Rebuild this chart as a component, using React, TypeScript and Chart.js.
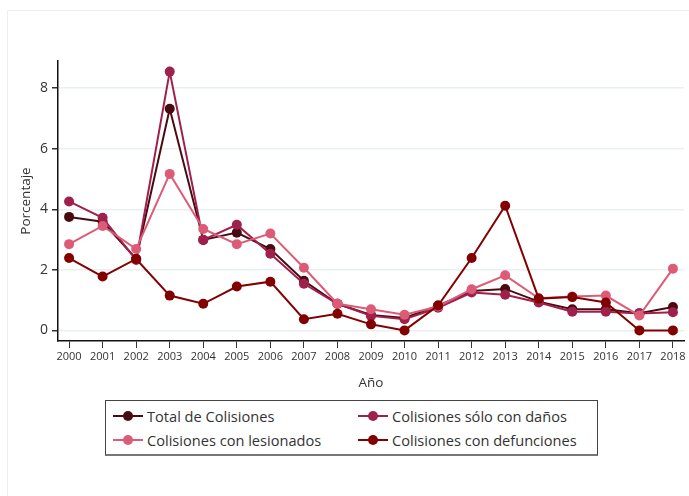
import React, { useEffect, useRef } from "react";
import { Chart, registerables } from "chart.js";

Chart.register(...registerables);

const years = [2000, 2001, 2002, 2003, 2004, 2005, 2006, 2007, 2008, 2009, 2010, 2011, 2012, 2013, 2014, 2015, 2016, 2017, 2018];
const totalColisiones = [3.75, 3.59, 2.36, 7.32, 2.99, 3.23, 2.69, 1.64, 0.88, 0.51, 0.41, 0.82, 1.3, 1.37, 0.95, 0.7, 0.7, 0.57, 0.77];
const soloDanos = [4.26, 3.72, 2.33, 8.55, 2.99, 3.49, 2.53, 1.54, 0.88, 0.48, 0.37, 0.75, 1.25, 1.18, 0.92, 0.62, 0.62, 0.56, 0.6];
const conLesionados = [2.85, 3.45, 2.69, 5.17, 3.35, 2.85, 3.2, 2.07, 0.88, 0.7, 0.52, 0.79, 1.36, 1.82, 1.06, 1.12, 1.15, 0.49, 2.04];
const conDefunciones = [2.39, 1.78, 2.36, 1.15, 0.88, 1.45, 1.61, 0.37, 0.55, 0.2, 0.0, 0.82, 2.39, 4.12, 1.05, 1.1, 0.92, 0.0, 0.0];
const yTicks = [0, 2, 4, 6, 8];

const seriesNames = ["Total de Colisiones", "Colisiones sólo con daños", "Colisiones con lesionados", "Colisiones con defunciones"];
const seriesColors = ["#4a0a12", "#a0204c", "#dc5c78", "#820000"];

const FONT = "'Open Sans', sans-serif";

export default function App() {
  const ref = useRef<HTMLCanvasElement | null>(null);

  useEffect(() => {
    document.body.style.margin = "0";
    const ctx = ref.current!;
    const values = [totalColisiones, soloDanos, conLesionados, conDefunciones];
    const order = [3, 2, 1, 0];
    const chart = new Chart(ctx, {
      type: "line",
      data: {
        datasets: order.map((i) => ({
          label: seriesNames[i],
          data: years.map((y, k) => ({ x: y, y: values[i][k] })),
          borderColor: seriesColors[i],
          backgroundColor: seriesColors[i],
          pointBackgroundColor: seriesColors[i],
          pointBorderColor: seriesColors[i],
          pointRadius: 5,
          pointBorderWidth: 0,
          borderWidth: 2,
          tension: 0,
          fill: false,
        })),
      },
      options: {
        animation: false,
        responsive: false,
        maintainAspectRatio: false,
        layout: { padding: { left: 14, top: 61, right: 1, bottom: 104 } },
        plugins: {
          legend: { display: false },
          tooltip: { enabled: false },
        },
        scales: {
          x: {
            type: "linear",
            min: 1999.67,
            max: 2018.33,
            afterBuildTicks: (scale: any) => {
              scale.ticks = years.map((v) => ({ value: v }));
            },
            afterFit: (scale: any) => {
              scale.height = 51;
            },
            ticks: {
              autoSkip: false,
              maxRotation: 0,
              color: "#333",
              font: { family: FONT, size: 11 },
              padding: 2,
              callback: (v: any) => String(v),
            },
            grid: {
              drawOnChartArea: false,
              drawTicks: true,
              tickLength: 7,
              tickColor: "#333",
              tickWidth: 1,
            },
            border: { color: "#111", width: 1.5 },
            title: {
              display: true,
              text: "Año",
              color: "#333",
              font: { family: FONT, size: 13.5 },
              padding: { top: 4, bottom: 1 },
            },
          },
          y: {
            type: "linear",
            min: -0.35,
            max: 8.9,
            afterBuildTicks: (scale: any) => {
              scale.ticks = yTicks.map((v) => ({ value: v }));
            },
            afterFit: (scale: any) => {
              scale.width = 44;
            },
            ticks: {
              color: "#333",
              font: { family: FONT, size: 14 },
              padding: 4,
            },
            grid: {
              color: "#eaf0f0",
              lineWidth: 1.5,
              drawTicks: true,
              tickLength: 6,
              tickColor: "#333",
            },
            border: { color: "#111", width: 1.5 },
            title: {
              display: true,
              text: "Porcentaje",
              color: "#333",
              font: { family: FONT, size: 13.5 },
              padding: { top: 4, bottom: 4 },
            },
          },
        },
      },
    });
    return () => chart.destroy();
  }, []);

  const legendItems = [
    { i: 0, left: 113, top: 407 },
    { i: 1, left: 358, top: 407 },
    { i: 2, left: 113, top: 431 },
    { i: 3, left: 358, top: 431 },
  ];

  return (
    <div style={{ position: "relative", width: 689, height: 496, overflow: "hidden", background: "#fff" }}>
      <div
        style={{
          position: "absolute",
          left: 7,
          top: 10,
          width: 720,
          height: 520,
          borderLeft: "1px solid #eeeeee",
          borderTop: "1px solid #eeeeee",
        }}
      />
      <canvas ref={ref} width={689} height={496} style={{ position: "absolute", left: 0, top: 0, width: 689, height: 496 }} />
      <div
        style={{
          position: "absolute",
          left: 105,
          top: 400,
          width: 491,
          height: 53,
          border: "1px solid #444",
          borderBottom: "2px solid #777",
          background: "#fff",
        }}
      />
      {legendItems.map(({ i, left, top }) => (
        <div
          key={i}
          style={{
            position: "absolute",
            left,
            top,
            height: 18,
            display: "flex",
            alignItems: "center",
            fontFamily: FONT,
            fontSize: 14.6,
            color: "#333",
            whiteSpace: "nowrap",
          }}
        >
          <span style={{ position: "relative", display: "inline-block", width: 30, height: 18, marginRight: 4 }}>
            <span style={{ position: "absolute", left: 0, top: 8, width: 30, height: 2, background: seriesColors[i] }} />
            <span
              style={{
                position: "absolute",
                left: 10,
                top: 4,
                width: 10,
                height: 10,
                borderRadius: 5,
                background: seriesColors[i],
              }}
            />
          </span>
          <span>{seriesNames[i]}</span>
        </div>
      ))}
    </div>
  );
}
